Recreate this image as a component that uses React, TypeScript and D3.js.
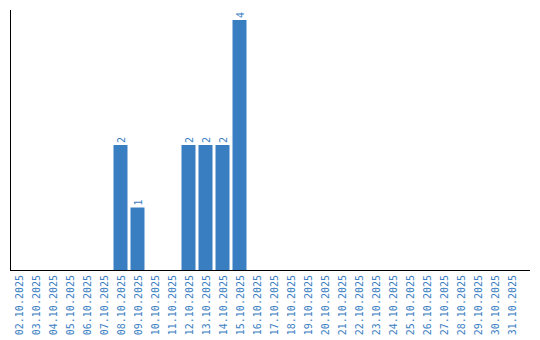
import React from "react";
import * as d3 from "d3";

const categories: string[] = [
  "02.10.2025","03.10.2025","04.10.2025","05.10.2025","06.10.2025","07.10.2025","08.10.2025","09.10.2025",
  "10.10.2025","11.10.2025","12.10.2025","13.10.2025","14.10.2025","15.10.2025","16.10.2025","17.10.2025",
  "18.10.2025","19.10.2025","20.10.2025","21.10.2025","22.10.2025","23.10.2025","24.10.2025","25.10.2025",
  "26.10.2025","27.10.2025","28.10.2025","29.10.2025","30.10.2025","31.10.2025",
];
const values: number[] = [0,0,0,0,0,0,2,1,0,0,2,2,2,4,0,0,0,0,0,0,0,0,0,0,0,0,0,0,0,0];

const W = 540, H = 340;
const BLUE = "#3a7ec2";
const FONT = "'DejaVu Sans Mono', monospace";

export default function App() {
  const x = d3.scaleBand<string>().domain(categories).range([10, 520]).paddingInner(3 / 17).paddingOuter(1.5 / 17);
  const y = d3.scaleLinear().domain([0, 4]).range([270, 20]);
  return (
    <svg width={W} height={H} style={{ position: "absolute", left: 0, top: 0 }}>
      {categories.map((c, i) => {
        const v = values[i];
        const bx = x(c)!;
        const cx = bx + x.bandwidth() / 2;
        return (
          <g key={c}>
            {v > 0 && (
              <>
                <rect x={bx} y={y(v)} width={x.bandwidth()} height={y(0) - y(v)} fill={BLUE} />
                <text transform={`translate(${cx + 4},${y(v) - 2}) rotate(-90)`} fontFamily={FONT} fontSize={10} fill={BLUE}>{v}</text>
              </>
            )}
            <text transform={`translate(${cx + 4},${275}) rotate(-90)`} textAnchor="end" fontFamily={FONT} fontSize={10} fill={BLUE}>{c}</text>
          </g>
        );
      })}
      <line x1={10.5} x2={10.5} y1={10} y2={270} stroke="#000" strokeWidth={1} />
      <line x1={10} x2={530} y1={270.5} y2={270.5} stroke="#000" strokeWidth={1} />
    </svg>
  );
}
